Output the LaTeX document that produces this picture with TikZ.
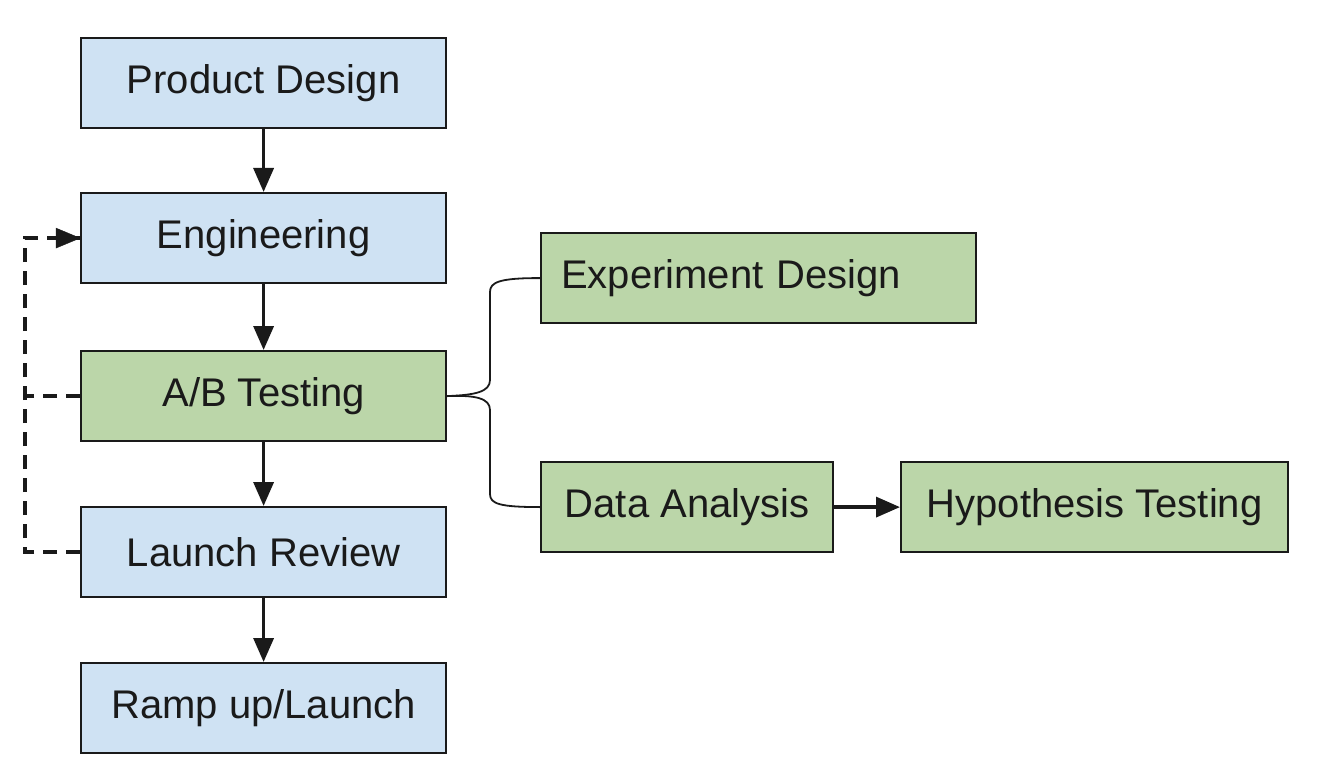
\documentclass[tikz,border=0pt]{standalone}
\usepackage{fontspec}
\setmainfont{Liberation Sans}
\usetikzlibrary{arrows.meta}
\definecolor{boxblue}{HTML}{CFE2F3}
\definecolor{boxgreen}{HTML}{BBD6A9}
\definecolor{ink}{HTML}{1A1A1A}
\begin{document}
\begin{tikzpicture}[x=1pt,y=-1pt,
  box/.style={draw=ink,line width=2.2pt,minimum height=90pt,inner sep=0pt,
    font=\fontsize{40}{46}\selectfont,text=ink,anchor=north west},
  bluebox/.style={box,fill=boxblue},
  greenbox/.style={box,fill=boxgreen},
  flow/.style={draw=ink,line width=3.5pt,-{Triangle[length=24pt,width=20pt]}},
  back/.style={draw=ink,line width=3.5pt,dash pattern=on 14pt off 9pt},
  brace/.style={draw=ink,line width=1.8pt}]
\useasboundingbox (0,0) rectangle (1344,778);
\node[bluebox,minimum width=365pt] (pd) at (80,37) {Product Design};
\node[bluebox,minimum width=365pt] (eng) at (80,192) {Engineering};
\node[greenbox,minimum width=365pt] (ab) at (80,350) {A/B Testing};
\node[bluebox,minimum width=365pt] (lr) at (80,506) {Launch Review};
\node[bluebox,minimum width=365pt] (ramp) at (80,662) {Ramp up/Launch};
\node[greenbox,minimum width=435pt,text width=395pt,align=left] (ed) at (540,232) {Experiment Design};
\node[greenbox,minimum width=292pt] (da) at (540,461) {Data Analysis};
\node[greenbox,minimum width=387pt] (ht) at (900,461) {Hypothesis Testing};
\coordinate (lx) at (25,0);
\draw[flow] (pd) -- (eng);
\draw[flow] (eng) -- (ab);
\draw[flow] (ab) -- (lr);
\draw[flow] (lr) -- (ramp);
\draw[flow] (da) -- (ht);
\draw[back] (lr.west) -- (lr.west -| lx) -- (eng.west -| lx) -- (eng.west);
\draw[back] (ab.west) -- (ab.west -| lx);
\path[draw=ink,fill=ink] (eng.west) -- ++(-24,-10) -- ++(0,20) -- cycle;
\draw[brace] (ab.east) .. controls (475,395) and (490,392) .. (490,380) -- (490,292)
  .. controls (490,282) and (500,278) .. (ed.west);
\draw[brace] (ab.east) .. controls (475,395) and (490,398) .. (490,410) -- (490,494)
  .. controls (490,504) and (500,507) .. (da.west);
\end{tikzpicture}
\end{document}
